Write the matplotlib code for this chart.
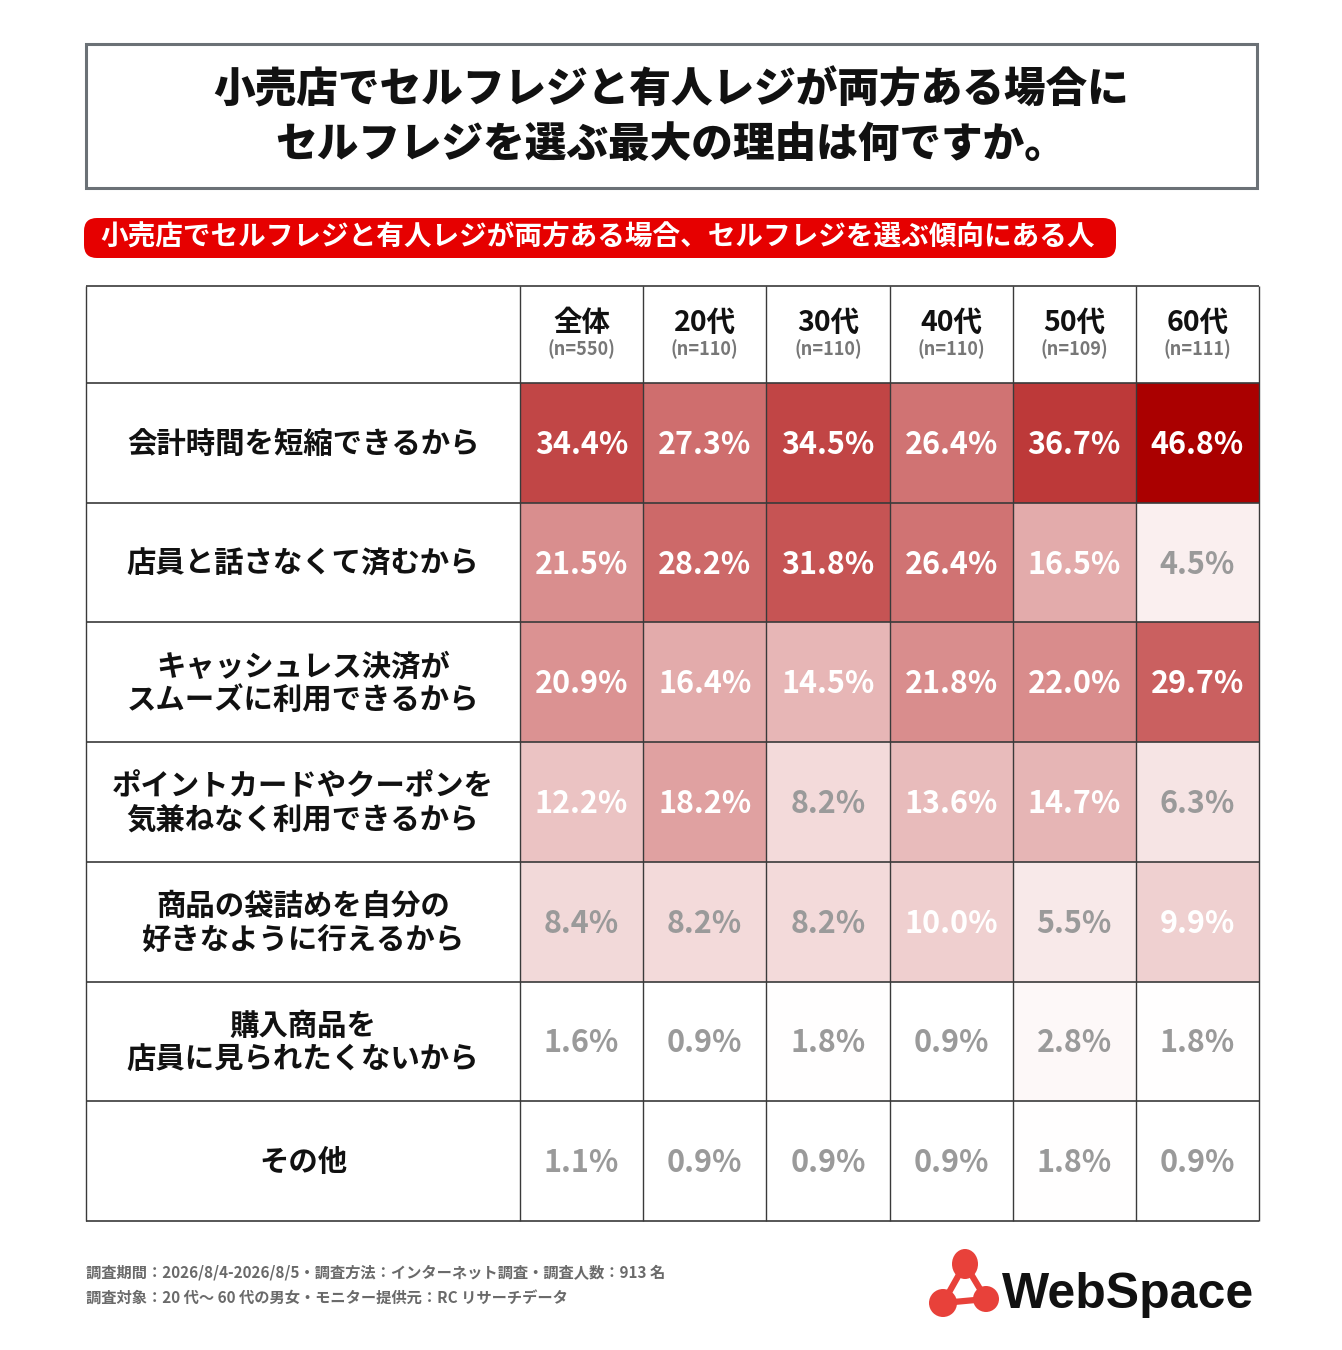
import numpy as np
import matplotlib
matplotlib.use("Agg")
import matplotlib.pyplot as plt
from matplotlib.colors import LinearSegmentedColormap, Normalize
from matplotlib.patches import FancyBboxPatch, Rectangle, Circle, Ellipse

plt.rcParams['font.family'] = ['Noto Sans CJK JP', 'DejaVu Sans']

# データ
titulo = "小売店でセルフレジと有人レジが両方ある場合に\nセルフレジを選ぶ最大の理由は何ですか。"
subtitulo = "小売店でセルフレジと有人レジが両方ある場合、セルフレジを選ぶ傾向にある人"
columnas = ["全体", "20代", "30代", "40代", "50代", "60代"]
n_muestra = [550, 110, 110, 110, 109, 111]
filas = [
    "会計時間を短縮できるから",
    "店員と話さなくて済むから",
    "キャッシュレス決済が\nスムーズに利用できるから",
    "ポイントカードやクーポンを\n気兼ねなく利用できるから",
    "商品の袋詰めを自分の\n好きなように行えるから",
    "購入商品を\n店員に見られたくないから",
    "その他",
]
valores = np.array([
    [34.4, 27.3, 34.5, 26.4, 36.7, 46.8],
    [21.5, 28.2, 31.8, 26.4, 16.5, 4.5],
    [20.9, 16.4, 14.5, 21.8, 22.0, 29.7],
    [12.2, 18.2, 8.2, 13.6, 14.7, 6.3],
    [8.4, 8.2, 8.2, 10.0, 5.5, 9.9],
    [1.6, 0.9, 1.8, 0.9, 2.8, 1.8],
    [1.1, 0.9, 0.9, 0.9, 1.8, 0.9],
])
nota1 = "調査期間：2026/8/4-2026/8/5・調査方法：インターネット調査・調査人数：913 名"
nota2 = "調査対象：20 代～ 60 代の男女・モニター提供元：RC リサーチデータ"

# レイアウト (ピクセル)
W, H = 1342, 1350
x_izq, x_lab, x_der = 86, 520, 1259
y_top, y_head, y_bot = 286, 383, 1221

fig = plt.figure(figsize=(W / 100, H / 100), dpi=100)
ax = fig.add_axes([0, 0, 1, 1])
ax.set_xlim(0, W)
ax.set_ylim(H, 0)
ax.axis("off")

# タイトル枠
ax.add_patch(Rectangle((86, 44), 1171, 144, fill=False, edgecolor="#6b7176", lw=2.2))
ax.text(671, 118, titulo, ha="center", va="center", fontsize=30, fontweight="heavy",
        linespacing=1.38, color="#111111")

# 赤いバナー
ax.add_patch(FancyBboxPatch((84, 218), 1032, 40, boxstyle="round,pad=0,rounding_size=13",
                            facecolor="#e60000", edgecolor="none"))
ax.text(598, 238, subtitulo, ha="center", va="center", fontsize=19.9, fontweight="bold",
        color="white")

# ヒートマップ
xe = np.linspace(x_lab, x_der, len(columnas) + 1)
ye = np.linspace(y_head, y_bot, len(filas) + 1)
cmap = LinearSegmentedColormap.from_list("rojo", ["#ffffff", "#aa0000"])
norm = Normalize(vmin=1.5, vmax=46.8)
ax.pcolormesh(xe, ye, valores, cmap=cmap, norm=norm)

xc = (xe[:-1] + xe[1:]) / 2
yc = (ye[:-1] + ye[1:]) / 2
for i in range(len(filas)):
    for j in range(len(columnas)):
        v = valores[i, j]
        col = "white" if v >= 9.5 else "#9a9a9a"
        ax.text(xc[j], yc[i] + 2, f"{v:.1f}%", ha="center", va="center",
                fontsize=22, fontweight="bold", color=col)
    ax.text((x_izq + x_lab) / 2, yc[i] + 1, filas[i], ha="center", va="center",
            fontsize=21.2, fontweight="bold", color="#111111", linespacing=1.15)

for j, (c, n) in enumerate(zip(columnas, n_muestra)):
    ax.text(xc[j], 323, c, ha="center", va="center", fontsize=20.5, fontweight="bold",
            color="#111111")
    ax.text(xc[j], 349, f"(n={n})", ha="center", va="center", fontsize=13,
            fontweight="bold", color="#777777")

# 罫線
ax.hlines(np.r_[y_top, ye], x_izq, x_der, colors="#3a3a3a", lw=1.2)
ax.vlines(np.r_[x_izq, xe], y_top, y_bot, colors="#3a3a3a", lw=1.0)

# 注記
ax.text(86, 1272, nota1, ha="left", va="center", fontsize=11, fontweight="bold",
        color="#6a6a6a")
ax.text(86, 1298, nota2, ha="left", va="center", fontsize=11, fontweight="bold",
        color="#6a6a6a")

# ロゴ
rojo = "#e8413a"
nodos = [(965, 1264), (943, 1303), (986, 1299)]
for a, b in [(0, 1), (1, 2), (0, 2)]:
    ax.plot([nodos[a][0], nodos[b][0]], [nodos[a][1], nodos[b][1]], color=rojo, lw=4.5,
            solid_capstyle="round")
ax.add_patch(Ellipse(nodos[0], 26, 30, facecolor=rojo, edgecolor="none"))
ax.add_patch(Circle(nodos[1], 14, facecolor=rojo, edgecolor="none"))
ax.add_patch(Circle(nodos[2], 13, facecolor=rojo, edgecolor="none"))
ax.text(1002, 1308, "WebSpace", ha="left", va="baseline", fontsize=36, fontweight="bold",
        family=["Liberation Sans", "DejaVu Sans"], color="#111111")

fig.savefig("out.png", dpi=100)
